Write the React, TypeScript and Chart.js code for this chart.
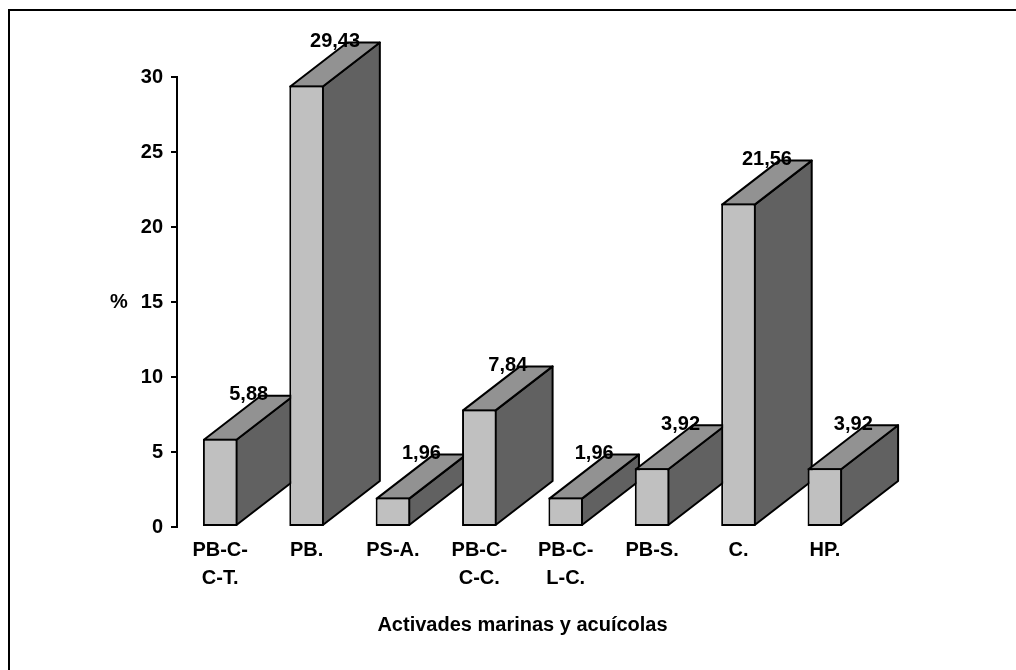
import React, { useEffect, useRef } from 'react';
import { Chart, registerables } from 'chart.js';

Chart.register(...registerables);

// ---- data ----
const categories: string[][] = [
  ['PB-C-', 'C-T.'],
  ['PB.'],
  ['PS-A.'],
  ['PB-C-', 'C-C.'],
  ['PB-C-', 'L-C.'],
  ['PB-S.'],
  ['C.'],
  ['HP.'],
];
const values: number[] = [5.88, 29.43, 1.96, 7.84, 1.96, 3.92, 21.56, 3.92];
const yMin = 0;
const yMax = 30;
const yStep = 5;
const xTitle = 'Activades marinas y acuícolas';
const yTitle = '%';

// ---- style ----
const FONT = '"Liberation Sans", Arial, sans-serif';
const FRONT = '#c0c0c0';
const SIDE = '#616161';
const TOP = '#929292';
const DX = 57;
const DY = -44;

const fmt = (v: number) => v.toFixed(2).replace('.', ',');

const threeD = {
  id: 'threeD',
  beforeDraw(chart: any) {
    const ctx = chart.ctx;
    ctx.save();
    ctx.fillStyle = '#ffffff';
    ctx.fillRect(0, 0, chart.width, chart.height);
    ctx.strokeStyle = '#000000';
    ctx.lineWidth = 2;
    ctx.strokeRect(9, 10, 1200, 1200);
    ctx.restore();
  },
  beforeDatasetsDraw(chart: any) {
    const ctx = chart.ctx;
    const meta = chart.getDatasetMeta(0);
    ctx.save();
    ctx.strokeStyle = '#000000';
    ctx.lineWidth = 2;
    ctx.lineJoin = 'round';
    meta.data.forEach((bar: any) => {
      const { x, y, base, width } = bar.getProps(['x', 'y', 'base', 'width'], true);
      const l = x - width / 2 + 1;
      const r = x + width / 2 - 1;
      const t = y + 1;
      const b = base - 1;
      // side face
      ctx.beginPath();
      ctx.moveTo(r, t);
      ctx.lineTo(r + DX, t + DY);
      ctx.lineTo(r + DX, b + DY);
      ctx.lineTo(r, b);
      ctx.closePath();
      ctx.fillStyle = SIDE;
      ctx.fill();
      ctx.stroke();
      // top face
      ctx.beginPath();
      ctx.moveTo(l, t);
      ctx.lineTo(l + DX, t + DY);
      ctx.lineTo(r + DX, t + DY);
      ctx.lineTo(r, t);
      ctx.closePath();
      ctx.fillStyle = TOP;
      ctx.fill();
      ctx.stroke();
    });
    ctx.restore();
  },
  afterDatasetsDraw(chart: any) {
    const ctx = chart.ctx;
    const meta = chart.getDatasetMeta(0);
    const xs = chart.scales.x;
    const ys = chart.scales.y;
    ctx.save();
    ctx.fillStyle = '#000000';
    ctx.font = `bold 20px ${FONT}`;
    ctx.textAlign = 'center';
    ctx.textBaseline = 'middle';
    // value labels
    meta.data.forEach((bar: any, i: number) => {
      const { x, y } = bar.getProps(['x', 'y'], true);
      ctx.fillText(fmt(values[i]), x + DX / 2, y + DY);
    });
    // category labels
    categories.forEach((lines, i) => {
      const cx = xs.getPixelForValue(i);
      lines.forEach((ln, j) => {
        ctx.fillText(ln, cx, ys.bottom + 23 + j * 28);
      });
    });
    // axis titles
    ctx.fillText(xTitle, (xs.left + xs.right) / 2, ys.bottom + 98);
    ctx.fillText(yTitle, 119, ys.getPixelForValue(15));
    ctx.restore();
  },
};

export default function App() {
  const ref = useRef<HTMLCanvasElement | null>(null);
  useEffect(() => {
    if (!ref.current) return;
    const chart = new Chart(ref.current, {
      type: 'bar',
      data: {
        labels: categories.map((c) => c.join(' ')),
        datasets: [
          {
            data: values,
            backgroundColor: FRONT,
            borderColor: '#000000',
            borderWidth: 2,
            borderSkipped: false,
            barPercentage: 0.4,
            categoryPercentage: 1,
          },
        ],
      },
      options: {
        responsive: false,
        animation: false,
        layout: { padding: { left: 0, top: 77, right: 148, bottom: 143 } },
        plugins: {
          legend: { display: false },
          tooltip: { enabled: false },
          title: { display: false },
        },
        scales: {
          x: {
            display: false,
            offset: true,
          },
          y: {
            min: yMin,
            max: yMax,
            afterFit: (s: any) => {
              s.width = 177;
            },
            border: { display: true, color: '#000000', width: 2 },
            grid: {
              drawOnChartArea: false,
              drawTicks: true,
              tickLength: 6,
              color: '#000000',
              lineWidth: 2,
            },
            ticks: {
              stepSize: yStep,
              padding: 8,
              color: '#000000',
              font: { family: FONT, size: 20, weight: 'bold' },
            },
          },
        },
      },
      plugins: [threeD],
    });
    return () => chart.destroy();
  }, []);
  return (
    <div style={{ position: 'fixed', left: 0, top: 0, width: 1016, height: 670 }}>
      <canvas ref={ref} width={1016} height={670} />
    </div>
  );
}
